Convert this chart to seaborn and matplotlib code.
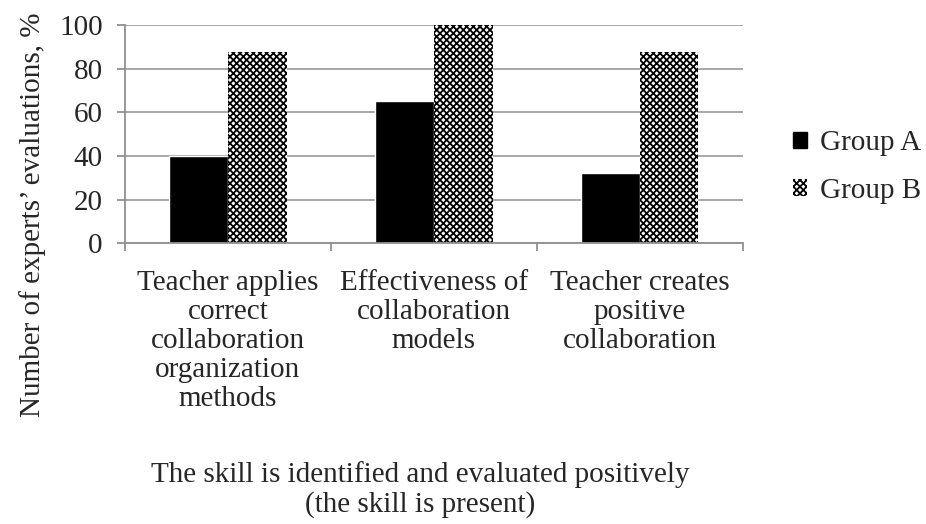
import pandas as pd
import seaborn as sns
import matplotlib.pyplot as plt
from matplotlib.patches import Patch

categories = ["Teacher applies\ncorrect\ncollaboration\norganization\nmethods",
              "Effectiveness of\ncollaboration\nmodels",
              "Teacher creates\npositive\ncollaboration"]
groups = ["Group A", "Group B"]
group_a = [40, 65, 32]
group_b = [87.5, 100, 87.5]
y_ticks = [0, 20, 40, 60, 80, 100]

df = pd.DataFrame({
    "category": categories * 2,
    "group": [groups[0]] * 3 + [groups[1]] * 3,
    "value": group_a + group_b,
})

sns.set_style("white")
plt.rcParams['font.family'] = ['Liberation Serif', 'DejaVu Serif']
plt.rcParams['hatch.linewidth'] = 1.3
plt.rcParams['hatch.color'] = 'black'

FS = 21

fig = plt.figure(figsize=(9.26, 5.24), dpi=100)
ax = fig.add_axes([0.135, 0.536, 0.667, 0.416])

sns.barplot(data=df, x="category", y="value", hue="group",
            palette=["black", "white"], width=0.57, saturation=1,
            ax=ax, legend=False)

# group B bars get the dotted check pattern
for bar in ax.containers[1]:
    bar.set_hatch("xxxxx")
    bar.set_edgecolor("black")
    bar.set_linewidth(0)

ax.set_ylim(0, 100)
ax.set_yticks(y_ticks)
ax.set_xlim(-0.5, 2.5)
ax.yaxis.grid(True, color="#a0a0a0", linewidth=1.3)
ax.set_axisbelow(True)
for s in ["top", "right"]:
    ax.spines[s].set_visible(False)
for s in ["left", "bottom"]:
    ax.spines[s].set_color("#909090")
    ax.spines[s].set_linewidth(1.3)

ax.tick_params(axis="y", labelsize=FS, length=6, color="#909090", width=1.3, left=True, pad=10)
ax.set_xticks([0, 1, 2])
ax.set_xticklabels(categories, fontsize=FS, linespacing=1.15)
ax.tick_params(axis="x", length=0, pad=19)
# category boundary ticks
ax.set_xticks([-0.5, 0.5, 1.5, 2.5], minor=True)
ax.tick_params(axis="x", which="minor", length=6, color="#909090", width=1.3, bottom=True)

ax.set_xlabel("")
ax.set_ylabel("")
fig.text(0.035, 0.59, "Number of experts’ evaluations, %", rotation=90,
         ha="center", va="center", fontsize=FS)
fig.text(0.454, 0.066, "The skill is identified and evaluated positively\n(the skill is present)",
         ha="center", va="center", fontsize=FS, linespacing=1.15)

handles = [Patch(facecolor="black", edgecolor="black"),
           Patch(facecolor="white", edgecolor="black", hatch="xxxxx", linewidth=0)]
fig.legend(handles, groups, loc="center left", bbox_to_anchor=(0.856, 0.681),
           frameon=False, fontsize=FS, handlelength=0.5, handleheight=0.5,
           handletextpad=0.45, labelspacing=0.75, borderaxespad=0, borderpad=0)

fig.savefig("out.png", dpi=100)
